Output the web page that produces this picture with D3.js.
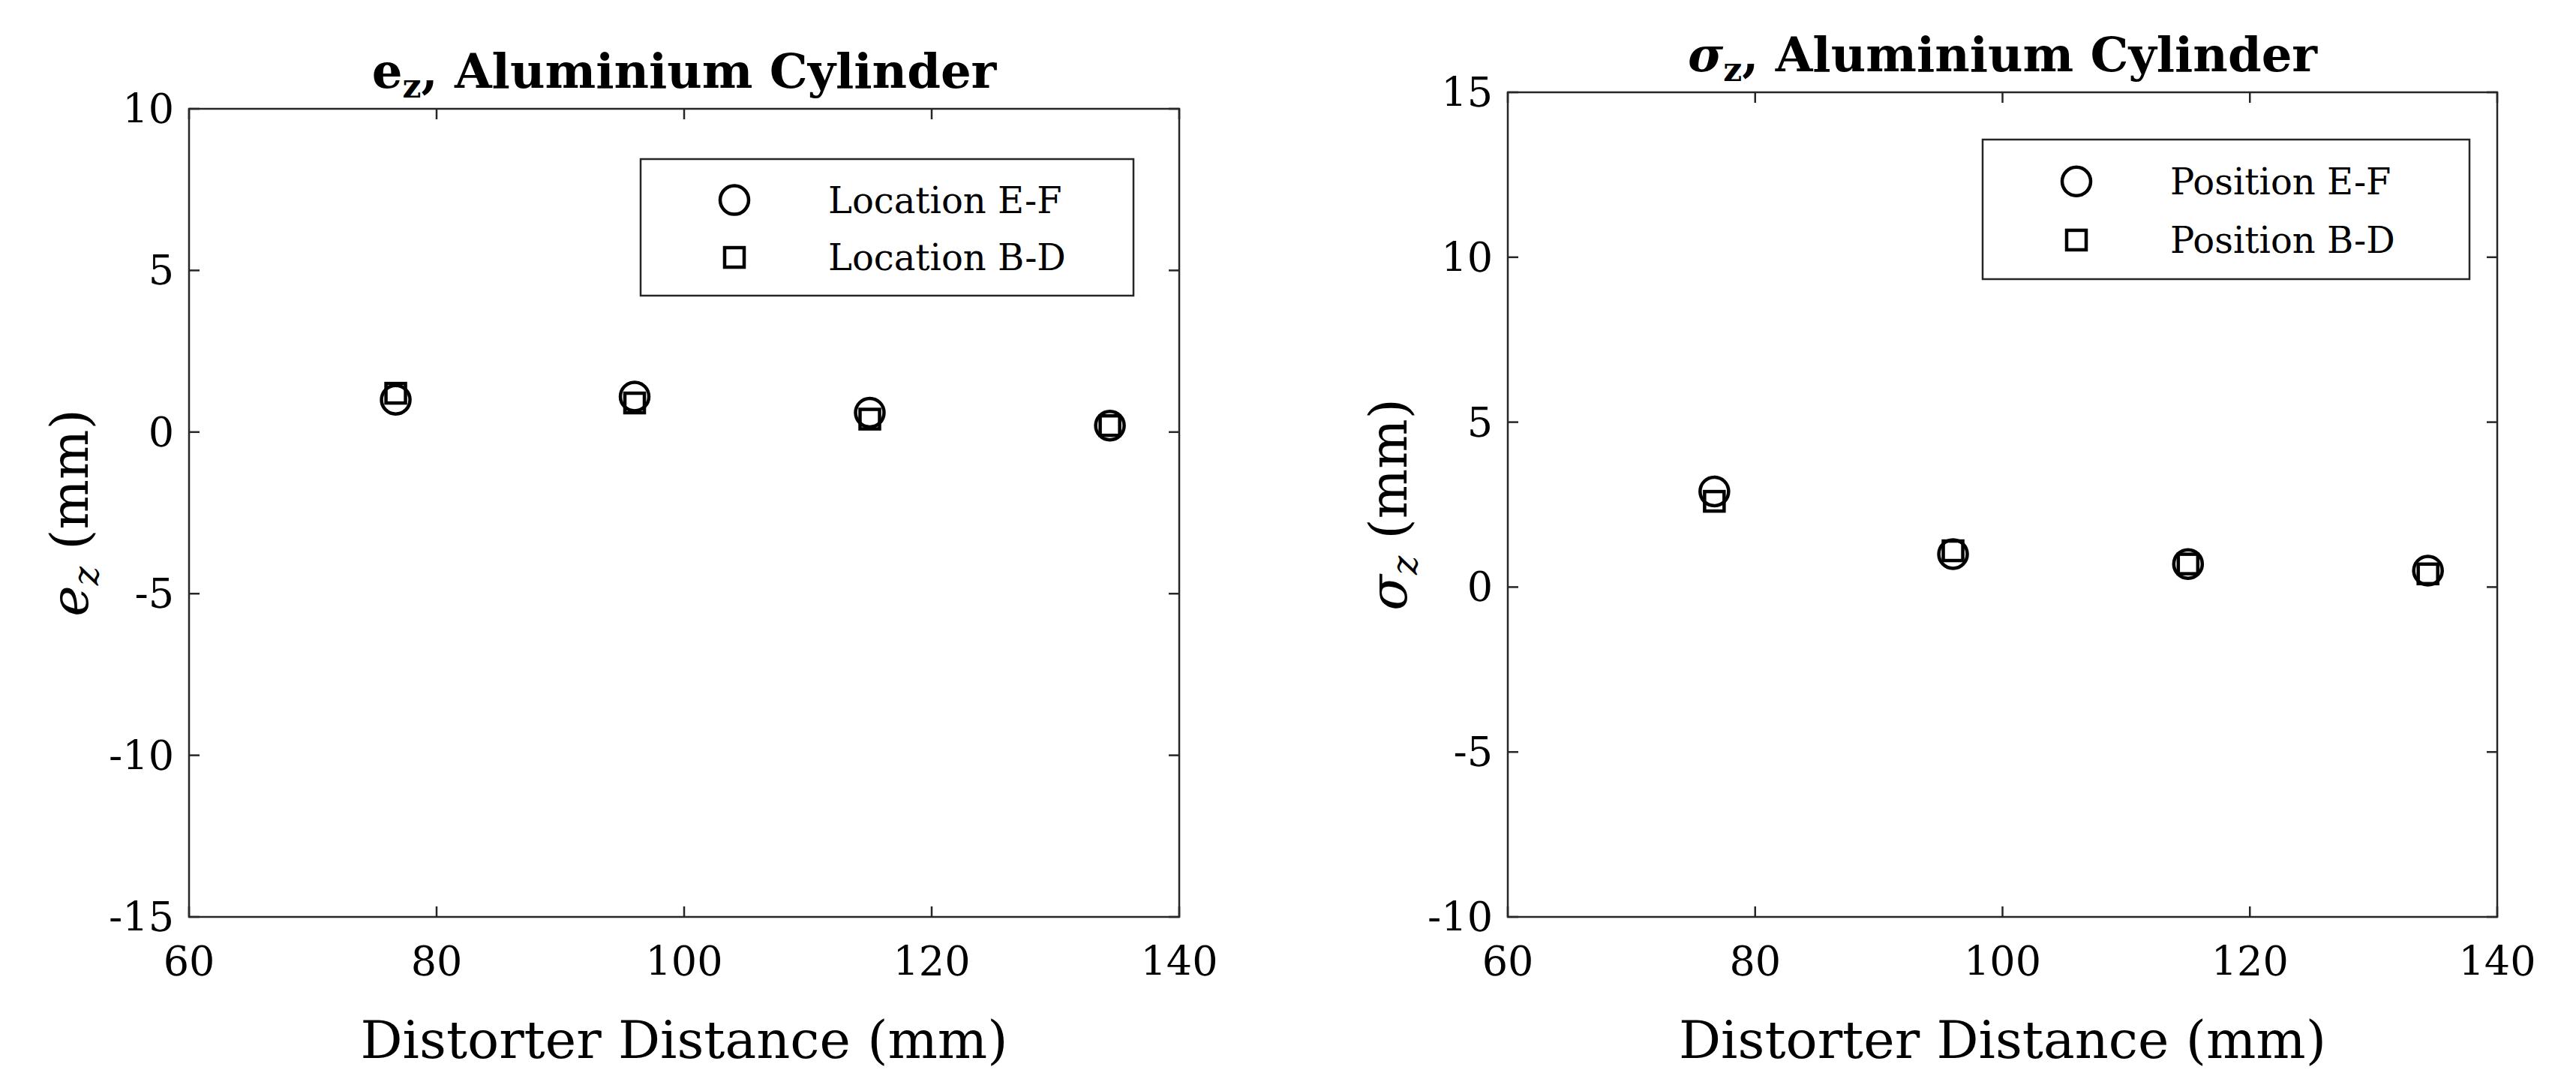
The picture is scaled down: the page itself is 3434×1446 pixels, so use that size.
<!DOCTYPE html>
<html><head><meta charset="utf-8">
<script src="https://cdn.jsdelivr.net/npm/d3@7"></script>
<style>body{margin:0;background:#fff}svg{display:block}text{font-family:"DejaVu Serif","Liberation Serif",serif;fill:#000}</style>
</head><body>
<script>
var distances = [76.7, 96, 115, 134.4];
var ezEF = [1.0, 1.1, 0.6, 0.2];
var ezBD = [1.2, 0.9, 0.4, 0.2];
var szEF = [2.9, 1.0, 0.7, 0.5];
var szBD = [2.6, 1.1, 0.7, 0.4];
var xTicks = [60, 80, 100, 120, 140];
var yTicksL = [-15, -10, -5, 0, 5, 10];
var yTicksR = [-10, -5, 0, 5, 10, 15];

var svg = d3.select("body").append("svg").attr("width", 3434).attr("height", 1446);

function panel(box, yDom, yTicks, ef, bd, title, ylab, legNames, legBox) {
	var g = svg.append("g");
	var x = d3.scaleLinear().domain([60, 140]).range([box.x0, box.x1]);
	var y = d3.scaleLinear().domain(yDom).range([box.y1, box.y0]);
	var tl = 14;
	g.append("rect").attr("x", box.x0).attr("y", box.y0).attr("width", box.x1 - box.x0)
		.attr("height", box.y1 - box.y0).attr("fill", "none").attr("stroke", "#262626").attr("stroke-width", 2.5);
	xTicks.forEach(function(t) {
		g.append("line").attr("x1", x(t)).attr("x2", x(t)).attr("y1", box.y1).attr("y2", box.y1 - tl).attr("stroke", "#262626").attr("stroke-width", 2.5);
		g.append("line").attr("x1", x(t)).attr("x2", x(t)).attr("y1", box.y0).attr("y2", box.y0 + tl).attr("stroke", "#262626").attr("stroke-width", 2.5);
		g.append("text").attr("x", x(t)).attr("y", box.y1 + 78).attr("text-anchor", "middle").attr("font-size", 54).text(t);
	});
	yTicks.forEach(function(t) {
		g.append("line").attr("y1", y(t)).attr("y2", y(t)).attr("x1", box.x0).attr("x2", box.x0 + tl).attr("stroke", "#262626").attr("stroke-width", 2.5);
		g.append("line").attr("y1", y(t)).attr("y2", y(t)).attr("x1", box.x1).attr("x2", box.x1 - tl).attr("stroke", "#262626").attr("stroke-width", 2.5);
		g.append("text").attr("x", box.x0 - 20).attr("y", y(t) + 19).attr("text-anchor", "end").attr("font-size", 54).text(t);
	});
	g.append("text").attr("x", (box.x0 + box.x1) / 2).attr("y", box.y1 + 188).attr("text-anchor", "middle").attr("font-size", 70).text("Distorter Distance (mm)");
	var yl = g.append("text").attr("transform", "translate(" + (box.x0 - 135) + "," + ((box.y0 + box.y1) / 2) + ") rotate(-90)")
		.attr("text-anchor", "middle").attr("font-size", 70);
	yl.append("tspan").attr("font-style", "italic").text(ylab);
	yl.append("tspan").attr("font-style", "italic").attr("font-size", 48).attr("dy", 14).text("z");
	yl.append("tspan").attr("dy", -14).text(" (mm)");
	var tt = g.append("text").attr("x", (box.x0 + box.x1) / 2).attr("y", box.y0 - 28).attr("text-anchor", "middle").attr("font-size", 64).attr("font-weight", "bold");
	tt.append("tspan").attr("font-style", title.it ? "italic" : "normal").text(title.sym);
	tt.append("tspan").attr("font-size", 44).attr("dy", 13).text("z");
	tt.append("tspan").attr("dy", -13).text(", Aluminium Cylinder");

	g.selectAll(".ef").data(ef).enter().append("circle")
		.attr("cx", function(d, i) { return x(distances[i]); }).attr("cy", function(d) { return y(d); })
		.attr("r", 19).attr("fill", "none").attr("stroke", "#000").attr("stroke-width", 4.5);
	g.selectAll(".bd").data(bd).enter().append("rect")
		.attr("x", function(d, i) { return x(distances[i]) - 13; }).attr("y", function(d) { return y(d) - 13; })
		.attr("width", 26).attr("height", 26).attr("fill", "none").attr("stroke", "#000").attr("stroke-width", 4.5);

	g.append("rect").attr("x", legBox.x).attr("y", legBox.y).attr("width", legBox.w).attr("height", legBox.h)
		.attr("fill", "#fff").attr("stroke", "#262626").attr("stroke-width", 2.5);
	var r1 = legBox.y + legBox.h * 0.3, r2 = legBox.y + legBox.h * 0.72;
	g.append("circle").attr("cx", legBox.x + 125).attr("cy", r1).attr("r", 19).attr("fill", "none").attr("stroke", "#000").attr("stroke-width", 4.5);
	g.append("rect").attr("x", legBox.x + 112).attr("y", r2 - 13).attr("width", 26).attr("height", 26).attr("fill", "none").attr("stroke", "#000").attr("stroke-width", 4.5);
	g.append("text").attr("x", legBox.x + 250).attr("y", r1 + 17).attr("font-size", 48).text(legNames[0]);
	g.append("text").attr("x", legBox.x + 250).attr("y", r2 + 17).attr("font-size", 48).text(legNames[1]);
}

panel({x0: 252, x1: 1572, y0: 145, y1: 1222}, [-15, 10], yTicksL, ezEF, ezBD,
	{sym: "e", it: false}, "e", ["Location E-F", "Location B-D"], {x: 854, y: 212, w: 657, h: 182});
panel({x0: 2010, x1: 3329, y0: 123, y1: 1222}, [-10, 15], yTicksR, szEF, szBD,
	{sym: "σ", it: true}, "σ", ["Position E-F", "Position B-D"], {x: 2643, y: 186, w: 649, h: 186});
</script>
</body></html>
